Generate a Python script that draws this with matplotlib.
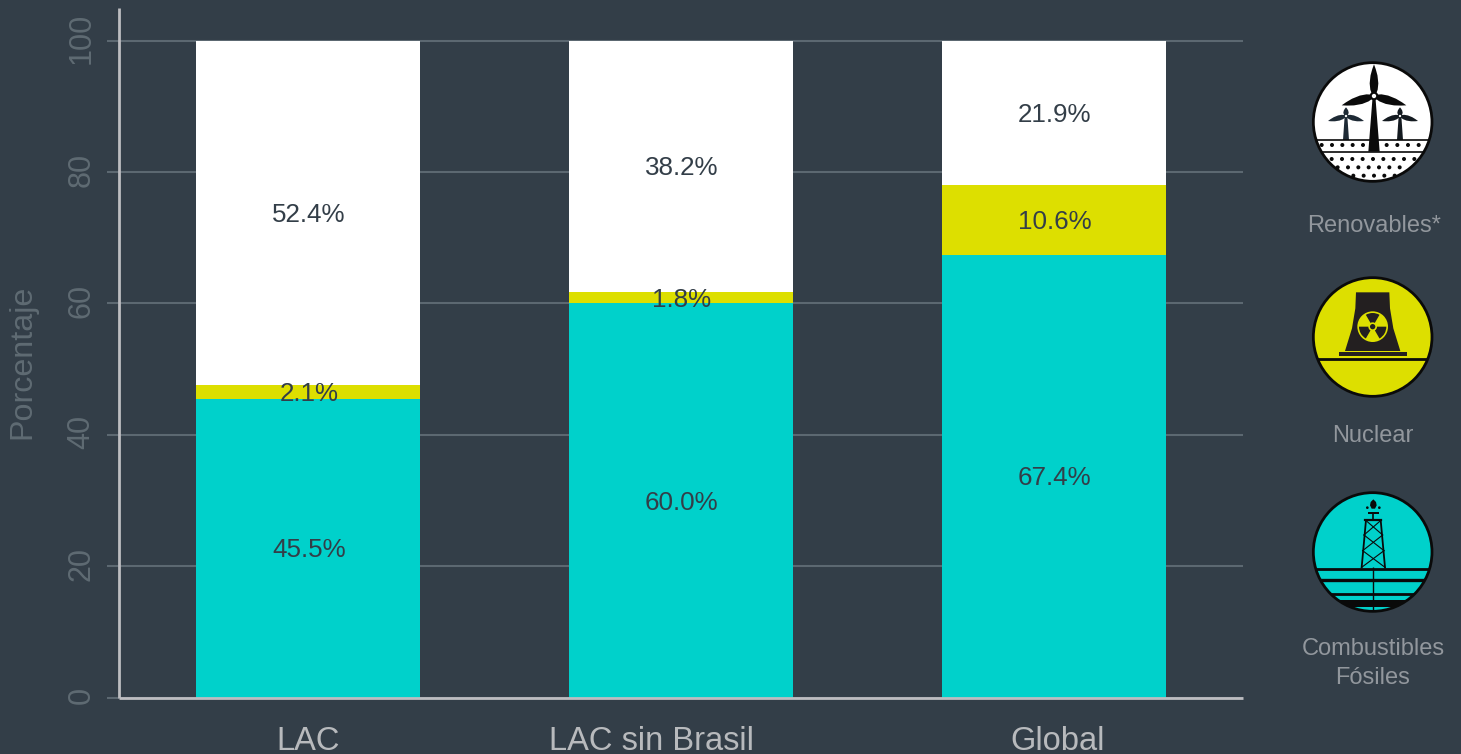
import matplotlib
matplotlib.use('Agg')
from matplotlib import pyplot as plt
from matplotlib.patches import Circle, Polygon, Rectangle, Wedge
from matplotlib.transforms import ScaledTranslation

W, H = 1461, 754
BG = '#333e48'
TEAL = '#00d1cb'
YELLOW = '#dddf00'
WHITE = '#ffffff'
INK = '#0a0a0a'

categories = ['LAC', 'LAC sin Brasil', 'Global']
fosiles = [45.5, 60.0, 67.4]
nuclear = [2.1, 1.8, 10.6]
renovables = [52.4, 38.2, 21.9]
yticks = [0, 20, 40, 60, 80, 100]
# the labels are not centred under their bars in the original
label_positions = [0, 0.92, 2.01]

plt.rcParams['font.family'] = ['Liberation Sans', 'DejaVu Sans']


def icon_axes(fig, x, y, w, h):
    # crop of the figure in pixels, drawn in 3x coordinates
    ax = fig.add_axes([x / W, 1 - (y + h) / H, w / W, h / H])
    ax.set_xlim(0, w * 3)
    ax.set_ylim(h * 3, 0)
    ax.axis('off')
    return ax


def disc(ax, cx, cy, color):
    face = Circle((cx, cy), 180, facecolor=color, edgecolor='none')
    ax.add_patch(face)
    return face


def rim(ax, cx, cy):
    ax.add_patch(Circle((cx, cy), 178, facecolor='none', edgecolor=INK, lw=2.0))


def clipped_line(ax, face, xs, ys, lw, color=INK):
    line, = ax.plot(xs, ys, color=color, lw=lw, solid_capstyle='butt')
    line.set_clip_path(face)


def blade(ax, hx, hy, tx, ty, wide, color):
    dx, dy = tx - hx, ty - hy
    nx, ny = -dy, dx
    length = (dx * dx + dy * dy) ** 0.5
    nx, ny = nx / length, ny / length
    shape = [(0.0, 0.3), (0.2, 0.85), (0.4, 1.0), (0.65, 0.8), (0.85, 0.4), (1.0, 0.0),
             (0.85, -0.4), (0.65, -0.8), (0.4, -1.0), (0.2, -0.85), (0.0, -0.3)]
    pts = [(hx + dx * a + nx * wide * b, hy + dy * a + ny * wide * b) for a, b in shape]
    ax.add_patch(Polygon(pts, closed=True, facecolor=color, edgecolor='none'))


def turbine(ax, hx, hy, up, left, right, base_y, base_w, wide, hub, color):
    ax.add_patch(Polygon([(hx - 4, hy), (hx + 4, hy), (hx + base_w / 2, base_y), (hx - base_w / 2, base_y)],
                         closed=True, facecolor=color, edgecolor='none'))
    blade(ax, hx, hy, hx, hy - up, wide, color)
    blade(ax, hx, hy, hx - left[0], hy + left[1], wide, color)
    blade(ax, hx, hy, hx + right[0], hy + right[1], wide, color)
    ax.add_patch(Circle((hx, hy), hub, facecolor=color, edgecolor='none'))
    ax.add_patch(Circle((hx, hy), hub * 0.5, facecolor=WHITE, edgecolor='none'))


def draw_renovables(fig):
    ax = icon_axes(fig, 1290, 50, 170, 200)
    cx, cy = 248, 216
    face = disc(ax, cx, cy, WHITE)
    turbine(ax, 168, 198, 26, (54, 15), (54, 15), 270, 18, 8, 7, '#1e2a35')
    turbine(ax, 330, 198, 26, (54, 15), (54, 15), 270, 18, 8, 7, '#141a20')
    clipped_line(ax, face, [60, 440], [269, 269], 1.2)
    clipped_line(ax, face, [60, 440], [306, 306], 1.2)
    turbine(ax, 252, 138, 95, (97, 28), (97, 28), 305, 34, 13, 13, INK)
    rows = [(285, [95, 126, 157, 188, 219, 290, 322, 354, 386]),
            (327, [125, 156, 187, 218, 249, 280, 311, 342, 373]),
            (352, [143, 174, 205, 236, 267, 298, 329]),
            (377, [190, 221, 252, 283, 314])]
    for y, xs in rows:
        for x in xs:
            dot = Circle((x, y), 6, facecolor=INK, edgecolor='none')
            ax.add_patch(dot)
    rim(ax, cx, cy)


def draw_nuclear(fig):
    ax = icon_axes(fig, 1290, 265, 170, 190)
    cx, cy = 248, 216
    face = disc(ax, cx, cy, YELLOW)
    dark = '#231f20'
    ax.add_patch(Polygon([(198, 82), (298, 82), (300, 130), (310, 190), (331, 258),
                          (165, 258), (186, 190), (196, 130)],
                         closed=True, facecolor=dark, edgecolor='none'))
    ax.add_patch(Rectangle((147, 262), 204, 11, facecolor=dark, edgecolor='none'))
    clipped_line(ax, face, [60, 440], [281, 281], 2.0)
    tx, ty = 248, 185
    ax.add_patch(Circle((tx, ty), 46, facecolor=YELLOW, edgecolor='none'))
    for mid in (270, 30, 150):
        ax.add_patch(Wedge((tx, ty), 41, mid - 30, mid + 30, width=28, facecolor=dark, edgecolor='none'))
    ax.add_patch(Circle((tx, ty), 8, facecolor=dark, edgecolor='none'))
    rim(ax, cx, cy)


def draw_fosiles(fig):
    ax = icon_axes(fig, 1290, 480, 170, 220)
    cx, cy = 248, 216
    face = disc(ax, cx, cy, TEAL)
    for y, lw in ((267, 2.0), (301, 2.4), (343, 2.0)):
        clipped_line(ax, face, [60, 440], [y, y], lw)
    band = Rectangle((60, 361), 380, 21, facecolor=INK, edgecolor='none')
    ax.add_patch(band)
    band.set_clip_path(face)
    clipped_line(ax, face, [250, 250], [262, 400], 1.0)
    # derrick
    ax.plot([228, 215], [120, 262], color=INK, lw=1.3)
    ax.plot([272, 285], [120, 262], color=INK, lw=1.3)
    ax.plot([226, 274], [120, 120], color=INK, lw=1.6)
    levels = [(120, 226, 274), (165, 222, 278), (212, 218, 282), (262, 215, 285)]
    for (y0, l0, r0), (y1, l1, r1) in zip(levels, levels[1:]):
        ax.plot([l0, r1], [y0, y1], color=INK, lw=0.8)
        ax.plot([r0, l1], [y0, y1], color=INK, lw=0.8)
    ax.plot([250, 250], [100, 120], color=INK, lw=1.2)
    ax.add_patch(Rectangle((234, 96), 32, 6, facecolor=INK, edgecolor='none'))
    ax.add_patch(Polygon([(250, 58), (258, 66), (260, 76), (255, 86), (245, 86), (240, 76), (242, 66)],
                         closed=True, facecolor=INK, edgecolor='none'))
    ax.add_patch(Circle((232, 83), 4, facecolor=INK, edgecolor='none'))
    ax.add_patch(Circle((268, 83), 4, facecolor=INK, edgecolor='none'))
    rim(ax, cx, cy)


def draw_chart():
    fig = plt.figure(figsize=(W / 100, H / 100), dpi=100, facecolor=BG)
    ax = fig.add_axes([119 / W, 1 - 697.5 / H, 1124 / W, 689.5 / H], facecolor=BG)

    x = list(range(len(categories)))
    bottom2 = [a + b for a, b in zip(fosiles, nuclear)]
    groups = [ax.bar(x, fosiles, 0.6, color=TEAL, zorder=2),
              ax.bar(x, nuclear, 0.6, bottom=fosiles, color=YELLOW, zorder=2),
              ax.bar(x, renovables, 0.6, bottom=bottom2, color=WHITE, zorder=2)]
    for group in groups:
        for label in ax.bar_label(group, fmt='%.1f%%', label_type='center', color=BG, fontsize=18.7, zorder=3):
            label.xyann = (0.7, -1.5)

    ax.set_xlim(-0.5063, 2.507)
    ax.set_ylim(0, 105)
    ax.set_xticks(label_positions, categories)
    ax.set_yticks(yticks)
    ax.grid(axis='y', color='#5c6871', lw=1.5, zorder=1)
    ax.set_axisbelow(True)
    ax.tick_params(axis='x', length=0, pad=20.5, labelsize=23.5, labelcolor='#b8babd')
    ax.tick_params(axis='y', length=9, width=1.5, color='#5c6871', pad=11.5,
                   labelsize=22, labelcolor='#5f6b73', labelrotation=90)
    nudge = ScaledTranslation(-1 / 100, 2.5 / 100, fig.dpi_scale_trans)
    for label in ax.get_yticklabels():
        label.set_rotation_mode('anchor')
        label.set_ha('center')
        label.set_va('baseline')
        label.set_transform(label.get_transform() + nudge)
    for side in ('top', 'right'):
        ax.spines[side].set_visible(False)
    for side in ('left', 'bottom'):
        ax.spines[side].set_color('#bdbdc1')
        ax.spines[side].set_linewidth(2)
        ax.spines[side].set_capstyle('butt')
    ax.set_ylabel('Porcentaje', color='#5f6b73', fontsize=23.2)
    ax.yaxis.set_label_coords(-0.0722, 0.487)

    draw_renovables(fig)
    draw_nuclear(fig)
    draw_fosiles(fig)

    for text, tx, ty in [('Renovables*', 1374, 226), ('Nuclear', 1372.5, 436),
                         ('Combustibles', 1373, 649), ('Fósiles', 1373, 678)]:
        fig.text(tx / W, 1 - ty / H, text, color='#92979d', fontsize=17, ha='center', va='center')

    fig.savefig('out.png', dpi=100, facecolor=BG)


if __name__ == '__main__':
    draw_chart()
